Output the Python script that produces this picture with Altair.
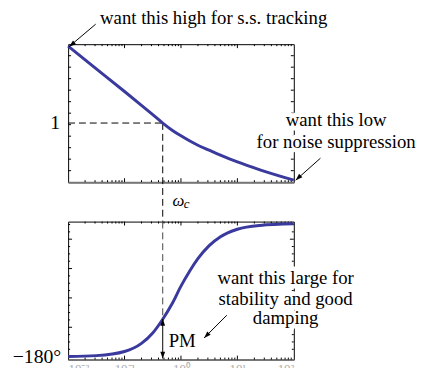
import altair as alt
import pandas as pd

# ---------------- data ----------------
omega = [0.01, 0.0316, 0.1, 0.1995, 0.316, 0.475, 0.708, 1.0, 1.413, 1.995,
         3.162, 5.01, 10.0, 25.12, 100.0]
mag_db = [78, 55, 32, 18, 8.5, 0, -7.5, -13, -18, -22.5,
          -27.5, -32.5, -39.5, -47.5, -58]
phase_deg = [-179.9, -179.3, -176.5, -171.0, -163.9, -154.5, -143.5, -132.0, -122.0, -113.3,
             -104.4, -98.3, -93.2, -90.6, -89.5]

omega_c = 0.475
phase_at_wc = -154.5
phase_floor = -181.3

x_major = [0.1, 1, 10]
x_minor = [m * 10.0 ** e for e in (-2, -1, 0, 1) for m in range(2, 10)]
x_labels = [0.01, 0.1, 1, 10, 100]
mag_ticks = [-60 + i * 140 / 12 for i in range(1, 12)]
phase_major = [-160, -140, -120, -100]
phase_minor = [-175, -170, -165, -155, -150, -145, -135, -130, -125,
               -115, -110, -105, -95, -90]

top_notes = ["want this high for s.s. tracking", "want this low", "for noise suppression"]
top_notes_w = [3.8, 563, 563]
top_notes_v = [106, 3, -19]
bot_notes = ["want this large for", "stability and good", "damping"]
bot_notes_w = [71.6, 71.6, 71.6]
bot_notes_v = [-126.2, -140.7, -154.0]

# ---------------- styling ----------------
W, H = 229, 140
XDOM = [0.01, 100]
MAGDOM = [-60, 80]
PHDOM = [-182, -88]
BLUE = "#3a3a9e"
FONT = "Liberation Serif"
FS = 19
DEC_PX = 57.25  # pixels per decade
HEAD = "M0,0L-0.7,2L0.7,2Z"

xs = alt.Scale(type="log", domain=XDOM, nice=False)
ys_mag = alt.Scale(domain=MAGDOM, nice=False, zero=False)
ys_ph = alt.Scale(domain=PHDOM, nice=False, zero=False)

ax_top = alt.Axis(labels=False, ticks=False, grid=False, domainColor="#777",
                  domainWidth=2, title=None)
ax_bot = alt.Axis(values=x_labels, ticks=False, grid=False, domainColor="#777",
                  domainWidth=2, title=None, labelColor="#aaa", labelFont=FONT,
                  labelFontSize=13, labelPadding=3,
                  labelExpr="datum.value < 0.05 ? '10⁻²' : datum.value < 0.5 ? '10⁻¹' : "
                            "datum.value < 5 ? '10⁰' : datum.value < 50 ? '10¹' : '10²'")


def tick_frame(vmin, vmax, px_per_unit, yt_major, yt_minor, ymaj_len, ymin_len):
    rows = []
    for vals, L in ((x_major, 4), (x_minor, 2)):
        for v in vals:
            rows.append((v, v, vmin, vmin + L / px_per_unit))
            rows.append((v, v, vmax, vmax - L / px_per_unit))
    for vals, L in ((yt_major, ymaj_len), (yt_minor, ymin_len)):
        f = 10 ** (L / DEC_PX)
        for y in vals:
            rows.append((XDOM[0], XDOM[0] * f, y, y))
            rows.append((XDOM[1] / f, XDOM[1], y, y))
    return pd.DataFrame(rows, columns=["w", "w2", "v", "v2"])


curve = pd.DataFrame({"w": omega, "mag": mag_db, "ph": phase_deg})


def X(f, ax):
    return alt.X(f, type="quantitative", scale=xs, axis=ax)


def YM(f):
    return alt.Y(f, type="quantitative", scale=ys_mag, axis=None)


def YP(f):
    return alt.Y(f, type="quantitative", scale=ys_ph, axis=None)


def labels(df, yfn, ax, size, align="center", style="normal", halo=True):
    base = alt.Chart(df)
    enc = dict(x=X("w", ax), y=yfn("v"), text="label")
    fg = base.mark_text(font=FONT, fontSize=size, align=align, baseline="middle",
                        fontStyle=style, color="black").encode(**enc)
    if not halo:
        return [fg]
    bg = base.mark_text(font=FONT, fontSize=size, align=align, baseline="middle",
                        fontStyle=style, color="white", stroke="white",
                        strokeWidth=9, strokeJoin="round").encode(**enc)
    return [bg, fg]


# ---------------- top panel ----------------
ticks_top = tick_frame(MAGDOM[0], MAGDOM[1], 1.0, mag_ticks, [], 3, 2)
t_ticks = alt.Chart(ticks_top).mark_rule(color="black", strokeWidth=1).encode(
    x=X("w", ax_top), x2="w2", y=YM("v"), y2="v2")

t_line = alt.Chart(curve).mark_line(color=BLUE, strokeWidth=3, interpolate="monotone").encode(
    x=X("w", ax_top), y=YM("mag"))

dash_top = pd.DataFrame({"w": [XDOM[0], omega_c], "w2": [omega_c, omega_c],
                         "v": [0, 0], "v2": [0, -100]})
t_dash = alt.Chart(dash_top).mark_rule(color="black", strokeWidth=1, strokeDash=[7, 4]).encode(
    x=X("w", ax_top), x2="w2", y=YM("v"), y2="v2")

tn = pd.DataFrame({"label": top_notes, "w": top_notes_w, "v": top_notes_v})
one = pd.DataFrame({"label": ["1"], "w": [0.0072], "v": [0]})
wc1 = pd.DataFrame({"label": ["ω"], "w": [0.711], "v": [-79]})
wc2 = pd.DataFrame({"label": ["c"], "w": [1.12], "v": [-82]})

arr_top = pd.DataFrame({"w": [0.0308, 296.6], "v": [100.3, -35.7],
                        "w2": [0.0104, 108.0], "v2": [77.5, -58.0], "ang": [232, 227]})
t_shaft = alt.Chart(arr_top).mark_rule(color="black", strokeWidth=1).encode(
    x=X("w", ax_top), x2="w2", y=YM("v"), y2="v2")
t_head = alt.Chart(arr_top).mark_point(shape=HEAD, filled=True, color="black", size=49,
                                       opacity=1, strokeWidth=0).encode(
    x=X("w2", ax_top), y=YM("v2"), angle=alt.Angle("ang:Q", scale=None))

top_layers = [t_ticks, t_dash, t_line]
top_layers += labels(tn, YM, ax_top, FS)
top_layers += labels(one, YM, ax_top, 20, align="right", halo=False)
top_layers += labels(wc1, YM, ax_top, 17, align="left", style="italic", halo=False)
top_layers += labels(wc2, YM, ax_top, 13, align="left", style="italic", halo=False)
top_layers += [t_shaft, t_head]
top = alt.layer(*top_layers).properties(width=W, height=H)

# ---------------- bottom panel ----------------
ticks_bot = tick_frame(PHDOM[0], PHDOM[1], 1.5, phase_major, phase_minor, 4, 2)
b_ticks = alt.Chart(ticks_bot).mark_rule(color="black", strokeWidth=1).encode(
    x=X("w", ax_bot), x2="w2", y=YP("v"), y2="v2")

b_line = alt.Chart(curve).mark_line(color=BLUE, strokeWidth=3, interpolate="monotone").encode(
    x=X("w", ax_bot), y=YP("ph"))

dash_bot = pd.DataFrame({"w": [omega_c], "v": [PHDOM[1]], "v2": [phase_at_wc]})
b_dash = alt.Chart(dash_bot).mark_rule(color="#444", strokeWidth=1, strokeDash=[7, 4]).encode(
    x=X("w", ax_bot), y=YP("v"), y2="v2")

bn = pd.DataFrame({"label": bot_notes, "w": bot_notes_w, "v": bot_notes_v})
pm = pd.DataFrame({"label": ["PM"], "w": [0.605], "v": [-169.3]})
m180 = pd.DataFrame({"label": ["−180°"], "w": [0.00755], "v": [-180]})

arr_bot = pd.DataFrame({"w": [6.49, omega_c], "v": [-151.8, phase_at_wc],
                        "w2": [2.57, omega_c], "v2": [-167.3, phase_floor]})
b_shaft = alt.Chart(arr_bot).mark_rule(color="black", strokeWidth=1).encode(
    x=X("w", ax_bot), x2="w2", y=YP("v"), y2="v2")

heads_bot = pd.DataFrame({"w": [2.57, omega_c, omega_c],
                          "v": [-167.3, phase_at_wc + 0.3, phase_floor],
                          "ang": [225, 0, 180]})
b_head = alt.Chart(heads_bot).mark_point(shape=HEAD, filled=True, color="black", size=49,
                                         opacity=1, strokeWidth=0).encode(
    x=X("w", ax_bot), y=YP("v"), angle=alt.Angle("ang:Q", scale=None))

bot_layers = [b_ticks, b_dash, b_line]
bot_layers += labels(bn, YP, ax_bot, FS)
bot_layers += labels(pm, YP, ax_bot, FS, align="left", halo=False)
bot_layers += labels(m180, YP, ax_bot, 20, align="right", halo=False)
bot_layers += [b_shaft, b_head]
bottom = alt.layer(*bot_layers).properties(width=W, height=H)

chart = alt.vconcat(top, bottom, spacing=40, bounds="flush").properties(
    padding={"left": 4, "top": -2, "right": 0, "bottom": 0}
).configure_view(stroke="black", strokeWidth=1)

chart.save("out.html", embed_options={"renderer": "svg", "actions": False})
